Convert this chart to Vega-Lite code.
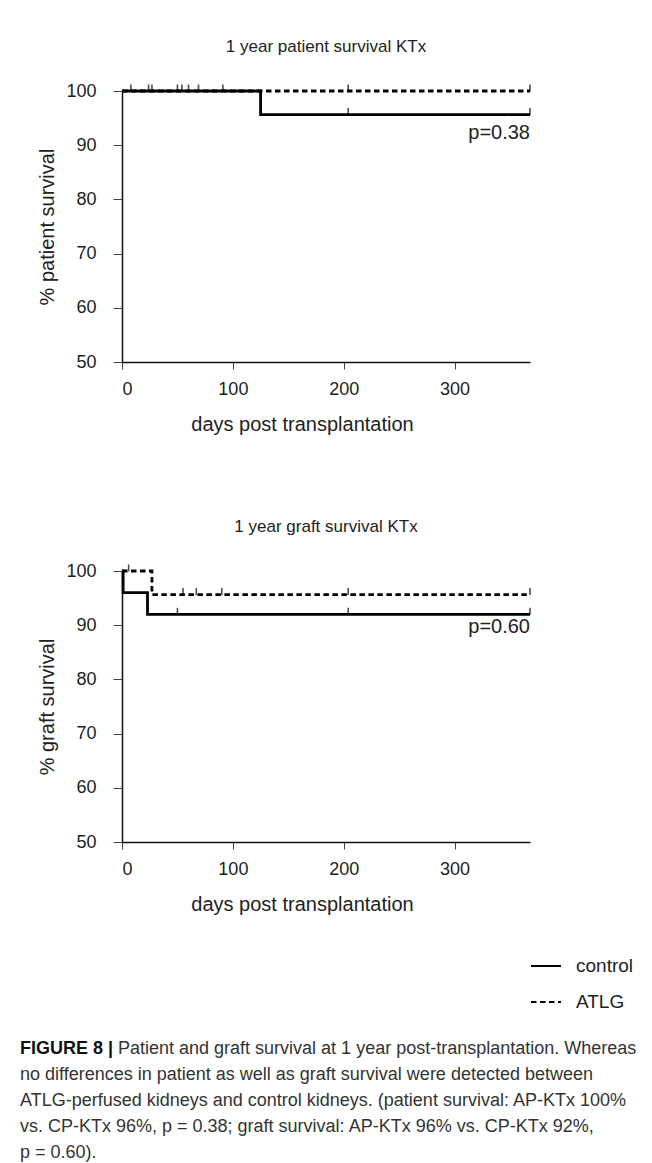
{
  "$schema": "https://vega.github.io/schema/vega-lite/v6.json",
  "background": "white",
  "padding": {"left": 20, "top": 38, "right": 0, "bottom": 0},
  "config": {
    "font": "Liberation Sans",
    "view": {"stroke": null},
    "axis": {
      "grid": false,
      "domainColor": "#111",
      "domainWidth": 1.5,
      "tickColor": "#444",
      "labelColor": "#222",
      "titleColor": "#222",
      "labelFontSize": 18,
      "titleFontSize": 20,
      "titleFontWeight": "normal"
    },
    "axisX": {"tickSize": 7, "labelPadding": 11, "labelDx": -5, "titlePadding": 16, "titleX": 180},
    "axisY": {"tickSize": 9, "labelPadding": 17, "titlePadding": 8},
    "title": {"fontSize": 17, "fontWeight": "normal", "color": "#222", "anchor": "middle", "offset": 26}
  },
  "datasets": {
    "patient": [
      {"group": "control", "day": 0, "survival": 100},
      {"group": "control", "day": 125, "survival": 95.65},
      {"group": "control", "day": 368, "survival": 95.65},
      {"group": "ATLG", "day": 0, "survival": 100},
      {"group": "ATLG", "day": 368, "survival": 100}
    ],
    "patientTicks": [
      {"group": "ATLG", "day": 8, "survival": 100},
      {"group": "ATLG", "day": 24, "survival": 100},
      {"group": "ATLG", "day": 27, "survival": 100},
      {"group": "ATLG", "day": 50, "survival": 100},
      {"group": "ATLG", "day": 54, "survival": 100},
      {"group": "ATLG", "day": 60, "survival": 100},
      {"group": "ATLG", "day": 69, "survival": 100},
      {"group": "ATLG", "day": 91, "survival": 100},
      {"group": "ATLG", "day": 204, "survival": 100},
      {"group": "ATLG", "day": 368, "survival": 100},
      {"group": "control", "day": 204, "survival": 95.65},
      {"group": "control", "day": 368, "survival": 95.65}
    ],
    "graft": [
      {"group": "control", "day": 0, "survival": 100},
      {"group": "control", "day": 1, "survival": 96},
      {"group": "control", "day": 23, "survival": 92},
      {"group": "control", "day": 368, "survival": 92},
      {"group": "ATLG", "day": 0, "survival": 100},
      {"group": "ATLG", "day": 27, "survival": 95.65},
      {"group": "ATLG", "day": 368, "survival": 95.65}
    ],
    "graftTicks": [
      {"group": "ATLG", "day": 6, "survival": 100},
      {"group": "ATLG", "day": 55, "survival": 95.65},
      {"group": "ATLG", "day": 67, "survival": 95.65},
      {"group": "ATLG", "day": 90, "survival": 95.65},
      {"group": "ATLG", "day": 204, "survival": 95.65},
      {"group": "ATLG", "day": 368, "survival": 95.65},
      {"group": "control", "day": 50, "survival": 92},
      {"group": "control", "day": 204, "survival": 92},
      {"group": "control", "day": 368, "survival": 92}
    ],
    "pvalues": [
      {"chart": "patient", "p": "p=0.38"},
      {"chart": "graft", "p": "p=0.60"}
    ],
    "caption": [
      {"line": 1, "lead": "FIGURE 8 |", "text": "Patient and graft survival at 1 year post-transplantation. Whereas"},
      {"line": 2, "lead": "", "text": "no differences in patient as well as graft survival were detected between"},
      {"line": 3, "lead": "", "text": "ATLG-perfused kidneys and control kidneys. (patient survival: AP-KTx 100%"},
      {"line": 4, "lead": "", "text": "vs. CP-KTx 96%, p = 0.38; graft survival: AP-KTx 96% vs. CP-KTx 92%,"},
      {"line": 5, "lead": "", "text": "p = 0.60)."}
    ]
  },
  "bounds": "flush",
  "spacing": 209,
  "resolve": {"scale": {"strokeDash": "independent"}, "legend": {"strokeDash": "independent"}},
  "vconcat": [
    {
      "width": 408,
      "height": 271,
      "title": "1 year patient survival KTx",
      "layer": [
        {
          "data": {"name": "patient"},
          "mark": {"type": "line", "interpolate": "step-after", "strokeWidth": 2.8, "color": "black"},
          "encoding": {
            "x": {"field": "day", "type": "quantitative", "scale": {"domain": [0, 368], "nice": false},
                  "axis": {"values": [0, 100, 200, 300]}, "title": "days post transplantation"},
            "y": {"field": "survival", "type": "quantitative", "scale": {"domain": [50, 100]},
                  "axis": {"values": [50, 60, 70, 80, 90, 100]}, "title": "% patient survival"},
            "strokeDash": {"field": "group", "type": "nominal",
                           "scale": {"domain": ["control", "ATLG"], "range": [[1, 0], [5.5, 3.5]]}, "legend": null}
          }
        },
        {
          "data": {"name": "patientTicks"},
          "mark": {"type": "tick", "orient": "vertical", "size": 7, "thickness": 1.6, "yOffset": -3, "color": "black"},
          "encoding": {
            "x": {"field": "day", "type": "quantitative"},
            "y": {"field": "survival", "type": "quantitative"}
          }
        },
        {
          "data": {"name": "pvalues"},
          "transform": [{"filter": "datum.chart === 'patient'"}],
          "mark": {"type": "text", "align": "right", "baseline": "middle", "fontSize": 20, "color": "#222"},
          "encoding": {
            "x": {"datum": 368},
            "y": {"datum": 92.2},
            "text": {"field": "p"}
          }
        }
      ]
    },
    {
      "width": 408,
      "height": 271,
      "title": "1 year graft survival KTx",
      "layer": [
        {
          "data": {"name": "graft"},
          "mark": {"type": "line", "interpolate": "step-after", "strokeWidth": 2.8, "color": "black"},
          "encoding": {
            "x": {"field": "day", "type": "quantitative", "scale": {"domain": [0, 368], "nice": false},
                  "axis": {"values": [0, 100, 200, 300]}, "title": "days post transplantation"},
            "y": {"field": "survival", "type": "quantitative", "scale": {"domain": [50, 100]},
                  "axis": {"values": [50, 60, 70, 80, 90, 100]}, "title": "% graft survival"},
            "strokeDash": {"field": "group", "type": "nominal",
                           "scale": {"domain": ["control", "ATLG"], "range": [[1, 0], [5.5, 3.5]]},
                           "legend": {"orient": "none", "legendX": 408, "legendY": 379, "title": null,
                                      "symbolType": "stroke", "symbolSize": 900, "symbolStrokeWidth": 2,
                                      "symbolStrokeColor": "black", "labelFontSize": 19, "labelColor": "#222",
                                      "rowPadding": 10, "labelOffset": 14}}
          }
        },
        {
          "data": {"name": "graftTicks"},
          "mark": {"type": "tick", "orient": "vertical", "size": 7, "thickness": 1.6, "yOffset": -3, "color": "black"},
          "encoding": {
            "x": {"field": "day", "type": "quantitative"},
            "y": {"field": "survival", "type": "quantitative"}
          }
        },
        {
          "data": {"name": "pvalues"},
          "transform": [{"filter": "datum.chart === 'graft'"}],
          "mark": {"type": "text", "align": "right", "baseline": "middle", "fontSize": 20, "color": "#222"},
          "encoding": {
            "x": {"datum": 368},
            "y": {"datum": 89.6},
            "text": {"field": "p"}
          }
        }
      ]
    },
    {
      "width": 408,
      "height": 104,
      "data": {"name": "caption"},
      "encoding": {
        "y": {"field": "line", "type": "ordinal", "scale": {"type": "point", "padding": 0}, "axis": null}
      },
      "layer": [
        {
          "transform": [{"filter": "datum.line === 1"}],
          "mark": {"type": "text", "align": "left", "baseline": "middle", "dy": -2, "fontSize": 18, "fontWeight": "bold", "color": "#111", "x": 0, "dx": -102},
          "encoding": {"text": {"field": "lead"}}
        },
        {
          "transform": [{"filter": "datum.line === 1"}],
          "mark": {"type": "text", "align": "left", "baseline": "middle", "dy": -2, "fontSize": 18, "color": "#333", "x": 0, "dx": -4},
          "encoding": {"text": {"field": "text"}}
        },
        {
          "transform": [{"filter": "datum.line > 1"}],
          "mark": {"type": "text", "align": "left", "baseline": "middle", "dy": -2, "fontSize": 18, "color": "#333", "x": 0, "dx": -102},
          "encoding": {"text": {"field": "text"}}
        }
      ]
    }
  ]
}
